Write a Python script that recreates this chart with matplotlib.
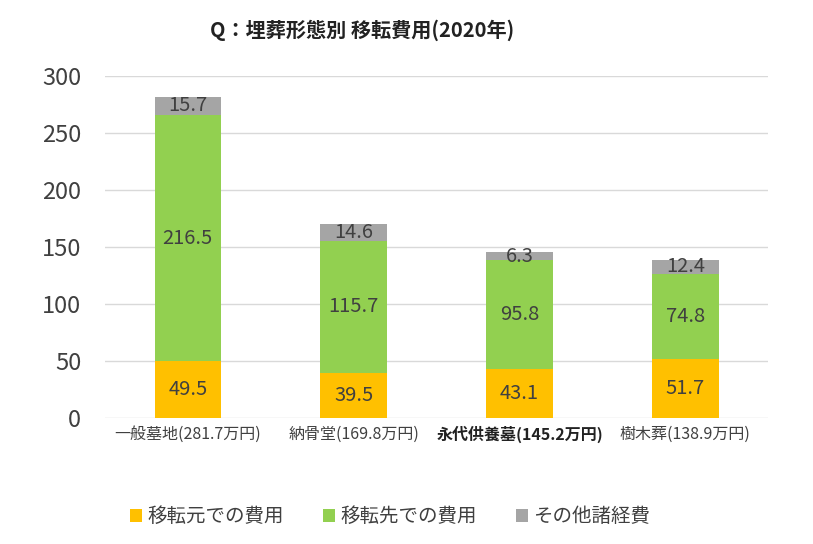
import matplotlib
matplotlib.use('Agg')
import matplotlib.pyplot as plt
import numpy as np

plt.rcParams['font.family'] = ['Noto Sans CJK JP', 'DejaVu Sans']

# data
categories = ['一般墓地(281.7万円)', '納骨堂(169.8万円)', '永代供養墓(145.2万円)', '樹木葬(138.9万円)']
moto = [49.5, 39.5, 43.1, 51.7]      # 移転元での費用
saki = [216.5, 115.7, 95.8, 74.8]    # 移転先での費用
other = [15.7, 14.6, 6.3, 12.4]      # その他諸経費
series_names = ['移転元での費用', '移転先での費用', 'その他諸経費']
colors = ['#FFC000', '#92D050', '#A5A5A5']
yticks = [0, 50, 100, 150, 200, 250, 300]

fig = plt.figure(figsize=(8.13, 5.44), dpi=100)
ax = fig.add_axes([0.129, 0.232, 0.816, 0.628])

x = np.arange(len(categories))
w = 0.4
bottom = np.zeros(len(categories))
text_c = '#404040'
for vals, col, name in zip([moto, saki, other], colors, series_names):
    ax.bar(x, vals, w, bottom=bottom, color=col, label=name, zorder=3)
    for xi, b, v in zip(x, bottom, vals):
        ax.text(xi, b + v / 2, f'{v:.1f}', ha='center', va='center',
                fontsize=14.5, color=text_c, zorder=4)
    bottom += np.array(vals)

ax.set_ylim(0, 300)
ax.set_xlim(-0.5, len(categories) - 0.5)
ax.set_yticks(yticks)
ax.tick_params(axis='y', labelsize=17, colors=text_c, length=0, pad=17)
ax.tick_params(axis='x', length=0, pad=6)
ax.set_xticks(x)
ax.set_xticklabels(categories, fontsize=11.5, color=text_c)
ax.get_xticklabels()[2].set_fontweight('bold')
ax.get_xticklabels()[2].set_color('#222222')
ax.grid(axis='y', color='#D9D9D9', linewidth=1, zorder=0)
for s in ax.spines.values():
    s.set_visible(False)

fig.text(0.445, 0.945, 'Q：埋葬形態別 移転費用(2020年)', ha='center', va='center',
         fontsize=14.5, fontweight='bold', color='#222222')

handles, labels = ax.get_legend_handles_labels()
fig.legend(handles, labels, loc='center', bbox_to_anchor=(0.48, 0.05), ncol=3,
           frameon=False, fontsize=14, handlelength=0.6, handleheight=0.6,
           handletextpad=0.3, columnspacing=2.0, labelcolor=text_c)

fig.savefig('out.png', dpi=100)
